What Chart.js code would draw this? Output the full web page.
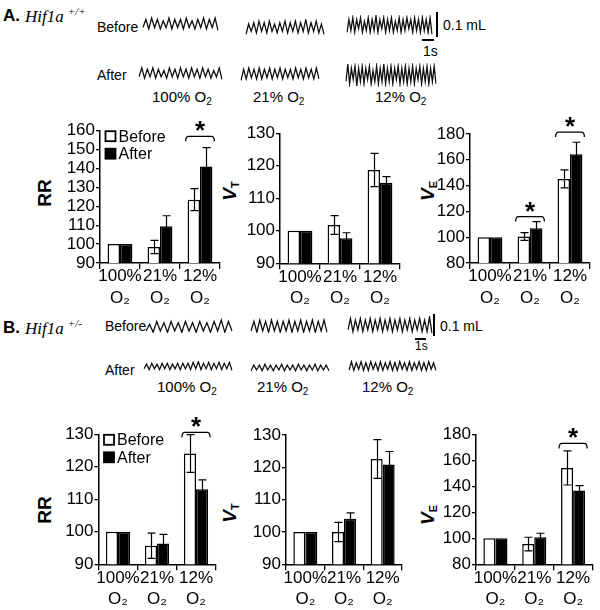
<!DOCTYPE html>
<html>
<head>
<meta charset="utf-8">
<script src="https://cdn.jsdelivr.net/npm/chart.js@4.4.1/dist/chart.umd.min.js"></script>
<style>
  body { margin: 0; background: #fff; }
  #fig { position: relative; width: 600px; height: 610px; overflow: hidden;
         font-family: "Liberation Sans", Arial, sans-serif; color: #000; }
  #fig canvas { position: absolute; }
  .t { position: absolute; white-space: nowrap; line-height: 1; transform: translateY(-50%); }
  .b { font-weight: bold; }
  .gene { font: italic 17px "Liberation Serif", "Times New Roman", serif; }
  .gene span { font-size: 11px; position: relative; top: -7px; margin-left: 4px; }
  .lbl { font-size: 14px; }
  .cond { font-size: 15px; }
  .cond sub { font-size: 10px; vertical-align: -3px; }
  .ytitle { position: absolute; white-space: nowrap; line-height: 1; font-weight: bold; font-size: 19px;
            transform: translate(-50%, -50%) rotate(-90deg); }
  .ytitle i sub { font-size: 11px; font-style: normal; vertical-align: -3px; }
  .bar { position: absolute; background: #000; }
</style>
</head>
<body>
<div id="fig">
  <!-- panel A -->
  <div class="t b" style="left:3px;top:15px;font-size:17px">A.</div>
  <div class="t gene" style="left:25px;top:17px">Hif1a<span>+/+</span></div>
  <div class="t lbl" style="left:97px;top:27px">Before</div>
  <div class="t lbl" style="left:97px;top:75px">After</div>
  <div class="bar" style="left:436px;top:12px;width:2px;height:25px"></div>
  <div class="t lbl" style="left:443px;top:25px">0.1 mL</div>
  <div class="bar" style="left:422px;top:39px;width:12px;height:2px"></div>
  <div class="t lbl" style="left:423px;top:51px">1s</div>
  <div class="t cond" style="left:152px;top:98px">100% O<sub>2</sub></div>
  <div class="t cond" style="left:253px;top:98px">21% O<sub>2</sub></div>
  <div class="t cond" style="left:375px;top:98px">12% O<sub>2</sub></div>
  <div class="ytitle" style="left:44px;top:193px">RR</div>
  <div class="ytitle" style="left:230px;top:191px"><i>V<sub>T</sub></i></div>
  <div class="ytitle" style="left:428px;top:191px"><i>V<sub>E</sub></i></div>

  <!-- panel B -->
  <div class="t b" style="left:3px;top:327px;font-size:17px">B.</div>
  <div class="t gene" style="left:25px;top:329px">Hif1a<span>+/-</span></div>
  <div class="t lbl" style="left:105px;top:326px">Before</div>
  <div class="t lbl" style="left:105px;top:370px">After</div>
  <div class="bar" style="left:433px;top:314px;width:2px;height:22px"></div>
  <div class="t lbl" style="left:440px;top:326px">0.1 mL</div>
  <div class="bar" style="left:415px;top:338px;width:11px;height:1.5px"></div>
  <div class="t" style="left:415px;top:346px;font-size:12px">1s</div>
  <div class="t cond" style="left:157px;top:388px">100% O<sub>2</sub></div>
  <div class="t cond" style="left:257px;top:388px">21% O<sub>2</sub></div>
  <div class="t cond" style="left:362px;top:388px">12% O<sub>2</sub></div>
  <div class="ytitle" style="left:44px;top:510px">RR</div>
  <div class="ytitle" style="left:230px;top:513px"><i>V<sub>T</sub></i></div>
  <div class="ytitle" style="left:428px;top:515px"><i>V<sub>E</sub></i></div>
</div>

<script>
const FONT = '"Liberation Sans", Arial, sans-serif';

// categories and series
const conditions = [["100%", "O₂"], ["21%", "O₂"], ["12%", "O₂"]];
const seriesNames = ["Before", "After"];

// panel A, Hif1a +/+  (% of 100% O2 value)
const rrA_before = [100, 98.5, 123.5];
const rrA_after = [100, 109.5, 141];
const rrA_errBefore = [0, 3.5, 5.8];
const rrA_errAfter = [0, 5.5, 10];
const rrA_sig = [null, null, 157];
const rrA_yTicks = [90, 100, 110, 120, 130, 140, 150, 160];

const vtA_before = [100, 101.8, 118.7];
const vtA_after = [100, 97.7, 114.8];
const vtA_errBefore = [0, 2.9, 5.1];
const vtA_errAfter = [0, 1.7, 1.9];
const vtA_sig = [null, null, null];
const vtA_yTicks = [90, 100, 110, 120, 130];

const veA_before = [100, 100.5, 145.2];
const veA_after = [100, 107, 164.3];
const veA_errBefore = [0, 3, 7];
const veA_errAfter = [0, 5, 9.3];
const veA_sig = [null, 116, 181.5];
const veA_yTicks = [80, 100, 120, 140, 160, 180];

// panel B, Hif1a +/-
const rrB_before = [100, 95.7, 124.1];
const rrB_after = [100, 96.4, 113.1];
const rrB_errBefore = [0, 3.9, 5.8];
const rrB_errAfter = [0, 2.8, 2.9];
const rrB_sig = [null, null, 130.6];
const rrB_yTicks = [90, 100, 110, 120, 130];

const vtB_before = [100, 100, 122.6];
const vtB_after = [100, 104.1, 120.9];
const vtB_errBefore = [0, 3, 6];
const vtB_errAfter = [0, 1.8, 4];
const vtB_sig = [null, null, null];
const vtB_yTicks = [90, 100, 110, 120, 130];

const veB_before = [100, 95.6, 154.1];
const veB_after = [100, 100.8, 136.7];
const veB_errBefore = [0, 5.2, 13.1];
const veB_errAfter = [0, 3.1, 3.8];
const veB_sig = [null, null, 173];
const veB_yTicks = [80, 100, 120, 140, 160, 180];

// breathing traces, alternating trough / peak (arbitrary units 0-10)
const traceA_before100 = [2,8,1,9,2,8,1,7,2,9,1,8,2,8,1,9,2,7,1,8,2,9,1,8,2,9,0];
const traceA_before21 = [0,7,2,8,1,9,2,8,1,9,2,7,1,8,2,9,1,8,2,9,1,8,2,10,1,8,2,9,1,7,0];
const traceA_before12 = [1,8,2,9,1,8,3,9,1,7,2,9,1,8,2,10,1,8,3,9,1,8,2,9,1,7,2,9,1,8,2,9,3,8,1,9,2,8,1,9,2,8,1,9,0];
const traceA_after100 = [2,9,1,8,2,9,1,8,2,7,1,9,2,8,1,9,2,8,1,9,2,8,1,9,2,8,1,7,2,9,0];
const traceA_after21 = [0,8,1,9,2,8,1,9,1,8,2,9,1,8,2,9,1,8,2,8,1,9,2,8,1,9,2,8,1,9,1];
const traceA_after12 = [2,10,1,8,3,9,0,8,2,9,1,8,3,9,1,7,2,9,1,8,2,10,1,8,2,9,1,8,3,9,1,8,2,9,1,8,2,9,1,8,3,9,1,8,2,9,1,8,2,9,1];
const traceB_before100 = [1,6,0,8,1,7,0,8,1,7,0,8,1,7,0,8,1,7,0,8,1,9,0,8,1];
const traceB_before21 = [1,8,0,9,1,8,0,9,1,8,0,8,1,9,0,8,1,9,0,8,1,9,0,8,1,9,0];
const traceB_before12 = [2,9,1,8,2,9,1,8,2,9,1,8,2,9,1,8,2,9,1,8,2,9,1,8,2,9,1,8,2,9,1,8,1,10,0];
const traceB_after100 = [2,7,1,8,2,7,1,8,2,8,1,7,2,8,1,8,2,8,1,9,2,10,1,8,2,9,1,8,2,9,1,8,2,9,0];
const traceB_after21 = [1,8,2,8,1,9,2,8,1,8,2,9,1,8,2,8,1,9,2,8,1,8,2,9,1,8,2,8,1];
const traceB_after12 = [1,9,1,8,2,9,1,8,1,9,2,8,1,9,1,8,2,9,1,8,1,9,2,8,1,9,1,8,2,9,1,8,1,9,2,8,1];

const fig = document.getElementById('fig');

function addCanvas(box) {
  const cv = document.createElement('canvas');
  cv.width = box[2];
  cv.height = box[3];
  cv.style.left = box[0] + 'px';
  cv.style.top = box[1] + 'px';
  fig.appendChild(cv);
  return cv;
}

const errorBars = {
  id: 'errorBars',
  afterDatasetsDraw(chart, args, opts) {
    const ctx = chart.ctx, y = chart.scales.y;
    ctx.save();
    ctx.strokeStyle = '#000';
    ctx.lineWidth = 1.2;
    opts.errors.forEach((errs, i) => {
      const vals = chart.data.datasets[i].data;
      chart.getDatasetMeta(i).data.forEach((bar, j) => {
        if (!errs[j]) return;
        const top = y.getPixelForValue(vals[j] + errs[j]);
        const bot = y.getPixelForValue(vals[j] - errs[j]);
        const x = Math.round(bar.x) + 0.5;
        ctx.beginPath();
        ctx.moveTo(x, top); ctx.lineTo(x, bot);
        ctx.moveTo(x - 4, top); ctx.lineTo(x + 4, top);
        ctx.moveTo(x - 4, bot); ctx.lineTo(x + 4, bot);
        ctx.stroke();
      });
    });
    ctx.restore();
  }
};

const sigBrackets = {
  id: 'sigBrackets',
  afterDatasetsDraw(chart, args, opts) {
    const ctx = chart.ctx, y = chart.scales.y;
    const m0 = chart.getDatasetMeta(0).data, m1 = chart.getDatasetMeta(1).data;
    ctx.save();
    ctx.strokeStyle = '#000';
    ctx.fillStyle = '#000';
    ctx.lineWidth = 1.3;
    opts.levels.forEach((lvl, j) => {
      if (lvl == null) return;
      const l = m0[j].x - m0[j].width / 2 - 2;
      const r = m1[j].x + m1[j].width / 2 + 2;
      const yy = y.getPixelForValue(lvl);
      ctx.beginPath();
      ctx.moveTo(l, yy + 5);
      ctx.quadraticCurveTo(l, yy, l + 3, yy);
      ctx.lineTo(r - 3, yy);
      ctx.quadraticCurveTo(r, yy, r, yy + 5);
      ctx.stroke();
      ctx.font = 'bold 26px ' + FONT;
      ctx.textAlign = 'center';
      ctx.textBaseline = 'alphabetic';
      ctx.fillText('*', (l + r) / 2, yy + 3);
    });
    ctx.restore();
  }
};

const boxLegend = {
  id: 'boxLegend',
  afterDraw(chart, args, opts) {
    if (!opts.show) return;
    const ctx = chart.ctx, a = chart.chartArea;
    ctx.save();
    ctx.font = '16px ' + FONT;
    ctx.textBaseline = 'middle';
    ctx.textAlign = 'left';
    chart.data.datasets.forEach((ds, i) => {
      const x = a.left + 5.5, y = a.top + 0.5 + i * 17.5;
      ctx.fillStyle = ds.backgroundColor;
      ctx.fillRect(x, y, 10, 10);
      ctx.strokeStyle = '#000';
      ctx.lineWidth = 1.8;
      ctx.strokeRect(x, y, 10, 10);
      ctx.fillStyle = '#000';
      ctx.fillText(ds.label, x + 13, y + 6);
    });
    ctx.restore();
  }
};

// box = canvas [left, top, width, height], area = plot [left, top, right, bottom]
function barChart(box, area, before, after, errB, errA, sig, yTicks, legend) {
  const cv = addCanvas(box);
  new Chart(cv, {
    type: 'bar',
    data: {
      labels: conditions,
      datasets: [
        { label: seriesNames[0], data: before, backgroundColor: '#fff', borderColor: '#000', borderWidth: 1.5 },
        { label: seriesNames[1], data: after, backgroundColor: '#000', borderColor: '#000', borderWidth: 1.5 }
      ]
    },
    options: {
      responsive: false,
      animation: false,
      devicePixelRatio: 1,
      layout: { padding: { left: 0, bottom: 0, top: area[1] - box[1], right: box[0] + box[2] - area[2] } },
      datasets: { bar: { categoryPercentage: 0.62, barPercentage: 1 } },
      plugins: {
        legend: { display: false },
        tooltip: { enabled: false },
        errorBars: { errors: [errB, errA] },
        sigBrackets: { levels: sig },
        boxLegend: { show: legend }
      },
      scales: {
        x: {
          grid: { offset: true, drawOnChartArea: false, tickLength: 6, color: '#000', lineWidth: 1.3 },
          border: { color: '#000', width: 1.5 },
          ticks: { color: '#000', font: { size: 17, family: FONT, lineHeight: 1.25 }, padding: -3,
                   maxRotation: 0, autoSkip: false },
          afterFit: s => { s.height = box[1] + box[3] - area[3]; }
        },
        y: {
          min: yTicks[0],
          max: yTicks[yTicks.length - 1],
          grid: { drawOnChartArea: false, tickLength: 4, color: '#000', lineWidth: 1.3 },
          border: { color: '#000', width: 1.5 },
          ticks: { color: '#000', font: { size: 17, family: FONT }, padding: 1, autoSkip: false },
          afterBuildTicks: s => { s.ticks = yTicks.map(v => ({ value: v })); },
          afterFit: s => { s.width = area[0] - box[0]; }
        }
      }
    },
    plugins: [errorBars, sigBrackets, boxLegend]
  });
}

function traceChart(box, values) {
  const cv = addCanvas(box);
  new Chart(cv, {
    type: 'line',
    data: {
      labels: values.map((_, i) => i),
      datasets: [{ data: values, borderColor: '#111', borderWidth: 1.3, pointRadius: 0, tension: 0 }]
    },
    options: {
      responsive: false,
      animation: false,
      devicePixelRatio: 1,
      layout: { padding: 1 },
      plugins: { legend: { display: false }, tooltip: { enabled: false } },
      scales: { x: { display: false }, y: { display: false, min: -0.5, max: 10.5 } }
    }
  });
}

// traces
traceChart([142, 15, 77, 17], traceA_before100);
traceChart([245, 18, 80, 18], traceA_before21);
traceChart([346, 14, 87, 22], traceA_before12);
traceChart([138, 65, 85, 16], traceA_after100);
traceChart([240, 65, 80, 17], traceA_after21);
traceChart([345, 62, 92, 26], traceA_after12);
traceChart([145, 317, 88, 17], traceB_before100);
traceChart([250, 317, 78, 17], traceB_before21);
traceChart([347, 315, 86, 20], traceB_before12);
traceChart([143, 360, 90, 12], traceB_after100);
traceChart([250, 362, 80, 11], traceB_after21);
traceChart([348, 359, 89, 14], traceB_after12);

// bar panels
barChart([30, 108, 200, 202], [100, 130.7, 220, 263], rrA_before, rrA_after, rrA_errBefore, rrA_errAfter, rrA_sig, rrA_yTicks, true);
barChart([210, 108, 200, 202], [280, 133.3, 400, 263.3], vtA_before, vtA_after, vtA_errBefore, vtA_errAfter, vtA_sig, vtA_yTicks, false);
barChart([410, 108, 200, 202], [470, 134, 590, 263], veA_before, veA_after, veA_errBefore, veA_errAfter, veA_sig, veA_yTicks, false);
barChart([30, 398, 200, 212], [98.5, 434.3, 215.5, 564.3], rrB_before, rrB_after, rrB_errBefore, rrB_errAfter, rrB_sig, rrB_yTicks, true);
barChart([210, 398, 200, 212], [286, 435, 402, 564.3], vtB_before, vtB_after, vtB_errBefore, vtB_errAfter, vtB_sig, vtB_yTicks, false);
barChart([410, 398, 200, 212], [476, 434.3, 592.5, 564.3], veB_before, veB_after, veB_errBefore, veB_errAfter, veB_sig, veB_yTicks, false);
</script>
</body>
</html>
